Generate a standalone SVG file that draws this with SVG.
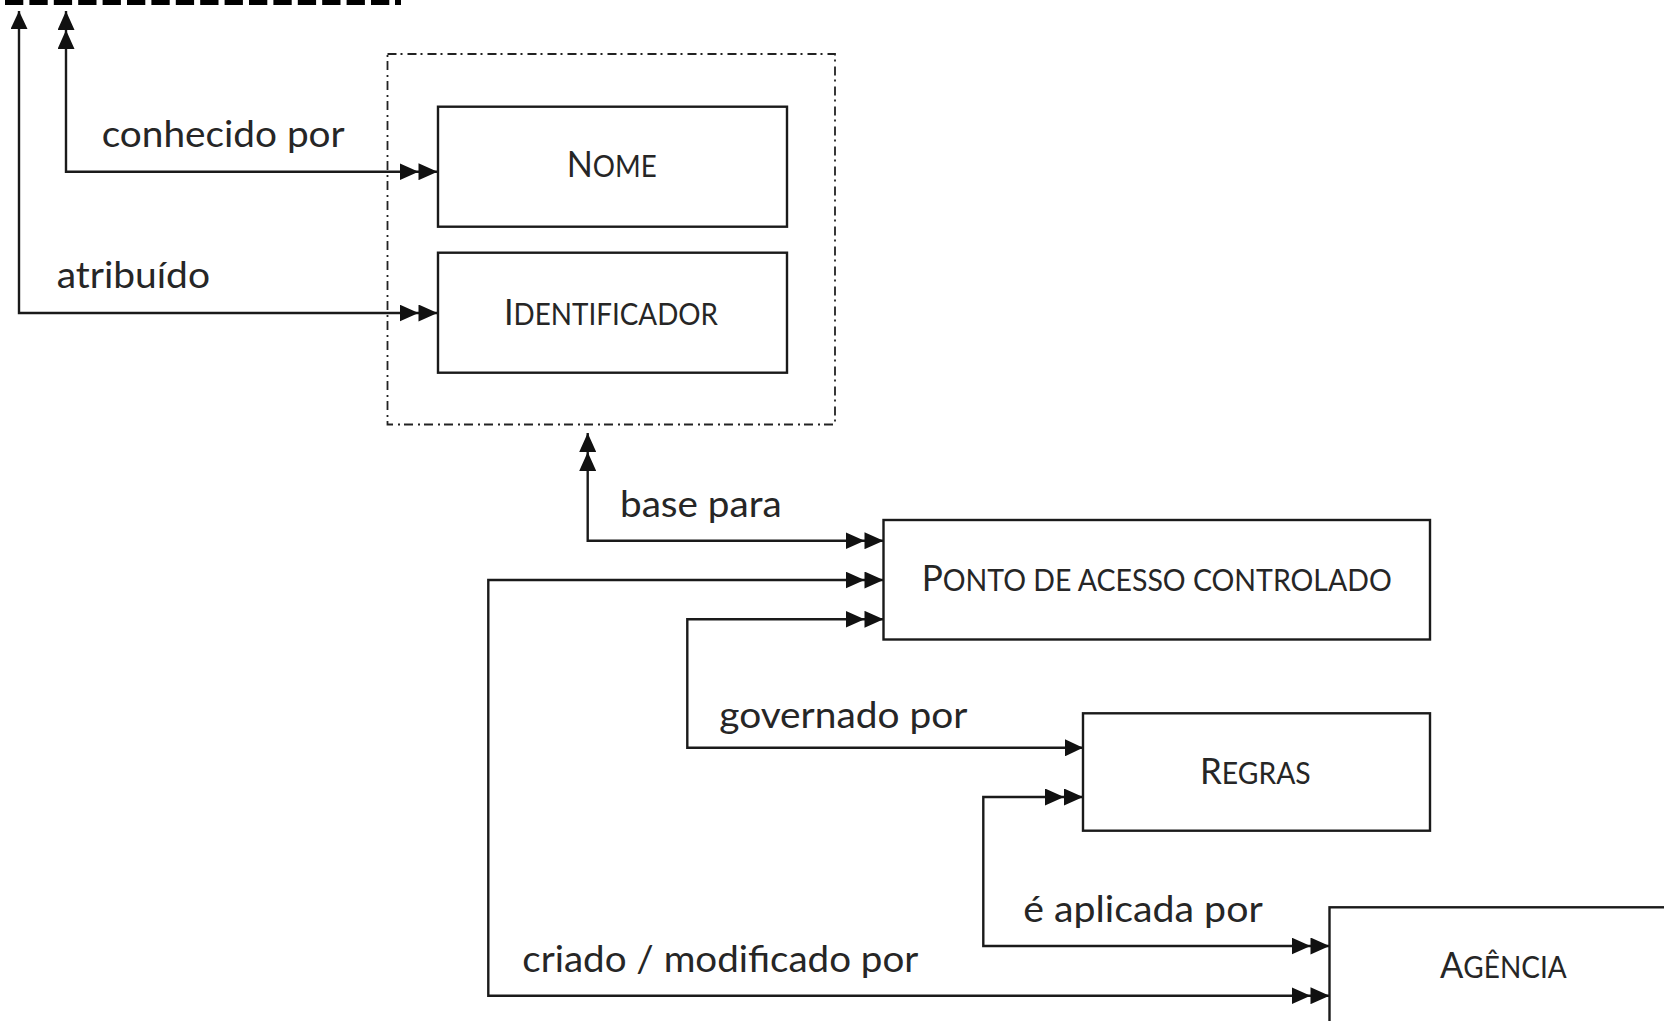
<svg xmlns="http://www.w3.org/2000/svg" width="1664" height="1021" viewBox="0 0 1664 1021">
<defs>
<style>
.box{fill:#fff;stroke:#1a1a1a;stroke-width:2.4}
.group{fill:none;stroke:#222;stroke-width:1.8;stroke-dasharray:9 4 2 5}
.conn{fill:none;stroke:#1a1a1a;stroke-width:2.4}
.lbl{font-family:Lato,"Open Sans","Liberation Sans",sans-serif;font-size:37.5px;fill:#262626}
.node{font-family:Lato,"Open Sans","Liberation Sans",sans-serif;font-size:37px;fill:#262626}
.sc{font-size:30px}
</style>
<marker id="a1" viewBox="0 0 18 17" refX="18" refY="8.5" markerWidth="18" markerHeight="17" markerUnits="userSpaceOnUse" orient="auto-start-reverse">
<path d="M0,0 L18,8.5 L0,17 z" fill="#111"/>
</marker>
<marker id="a2" viewBox="0 0 38 17" refX="38" refY="8.5" markerWidth="38" markerHeight="17" markerUnits="userSpaceOnUse" orient="auto-start-reverse">
<path d="M0,0 L19,8.5 L0,17 z M19,0 L38,8.5 L19,17 z" fill="#111"/>
</marker>
</defs>
<rect width="1664" height="1021" fill="#fff"/>

<g id="top-edge">
<path d="M5,2.5 H390" fill="none" stroke="#000" stroke-width="5" stroke-dasharray="18.3 6.1"/>
<rect x="395" y="0" width="6" height="5" fill="#000"/>
</g>

<g id="connectors">
<path class="conn" d="M19,11 V313 H437.5" marker-start="url(#a1)" marker-end="url(#a2)"/>
<path class="conn" d="M66,11 V171.7 H437.5" marker-start="url(#a2)" marker-end="url(#a2)"/>
<path class="conn" d="M587.7,433 V540.7 H883.5" marker-start="url(#a2)" marker-end="url(#a2)"/>
<path class="conn" d="M883.5,580 H488.3 V995.7 H1329.5" marker-start="url(#a2)" marker-end="url(#a2)"/>
<path class="conn" d="M883.5,619.3 H687.3 V747.8 H1083" marker-start="url(#a2)" marker-end="url(#a1)"/>
<path class="conn" d="M1083,797 H983.3 V946 H1329.5" marker-start="url(#a2)" marker-end="url(#a2)"/>
<text class="lbl" x="101.7" y="146.7" textLength="243" lengthAdjust="spacingAndGlyphs">conhecido por</text>
<text class="lbl" x="56.7" y="288.3" textLength="153.3" lengthAdjust="spacingAndGlyphs">atribuído</text>
<text class="lbl" x="620" y="517.3" textLength="161.7" lengthAdjust="spacingAndGlyphs">base para</text>
<text class="lbl" x="719.3" y="728" textLength="248" lengthAdjust="spacingAndGlyphs">governado por</text>
<text class="lbl" x="1023.3" y="921.7" textLength="239.4" lengthAdjust="spacingAndGlyphs">é aplicada por</text>
<text class="lbl" x="522.3" y="972" textLength="396" lengthAdjust="spacingAndGlyphs">criado / modificado por</text>
</g>

<g id="grupo-identificacao">
<rect class="group" x="387.5" y="54" width="447.5" height="370.5"/>
</g>

<g id="nome">
<rect class="box" x="438" y="106.7" width="349" height="120"/>
<text class="node" x="566.7" y="177.3" textLength="90" lengthAdjust="spacingAndGlyphs">N<tspan class="sc">OME</tspan></text>
</g>

<g id="identificador">
<rect class="box" x="438" y="252.7" width="349" height="120"/>
<text class="node" x="504" y="325" textLength="214" lengthAdjust="spacingAndGlyphs">I<tspan class="sc">DENTIFICADOR</tspan></text>
</g>

<g id="ponto-de-acesso">
<rect class="box" x="883.5" y="520" width="546.5" height="119.5"/>
<text class="node" x="921.7" y="590.7" textLength="470" lengthAdjust="spacingAndGlyphs">P<tspan class="sc">ONTO DE ACESSO CONTROLADO</tspan></text>
</g>

<g id="regras">
<rect class="box" x="1083" y="713.3" width="347" height="117.4"/>
<text class="node" x="1200" y="784" textLength="110.7" lengthAdjust="spacingAndGlyphs">R<tspan class="sc">EGRAS</tspan></text>
</g>

<g id="agencia">
<rect class="box" x="1329.5" y="907.3" width="360" height="140"/>
<text class="node" x="1440" y="978.3" textLength="126.7" lengthAdjust="spacingAndGlyphs">A<tspan class="sc">GÊNCIA</tspan></text>
</g>
</svg>
